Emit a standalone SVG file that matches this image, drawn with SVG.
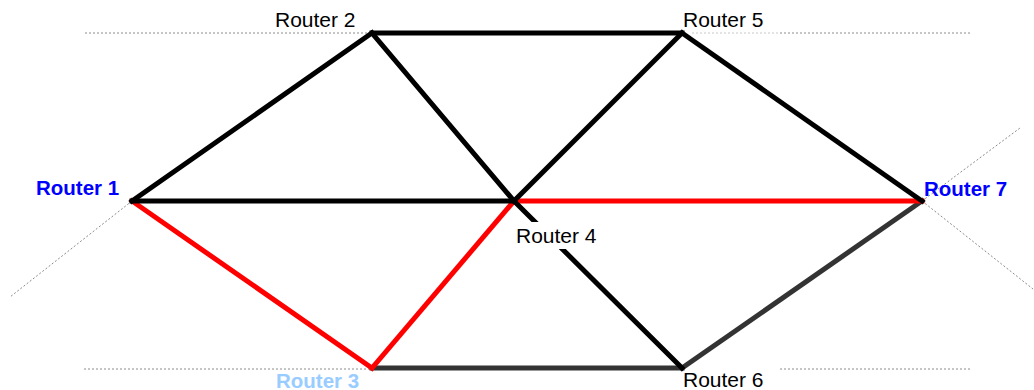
<svg xmlns="http://www.w3.org/2000/svg" width="1034" height="390" viewBox="0 0 1034 390">
  <style>
    .guide { stroke: #8c8c8c; stroke-width: 1; stroke-dasharray: 2 2; fill: none; }
    .guide-light { stroke: #c8c8c8; stroke-width: 1; stroke-dasharray: 2 2; fill: none; }
    .link { stroke-width: 5; fill: none; stroke-linecap: square; }
    .black { stroke: #000000; }
    .red { stroke: #ff0000; }
    .gray { stroke: #333333; }
    .label { font-family: "Liberation Sans", Arial, sans-serif; font-size: 21px; fill: #000000; }
    .edge-router { font-weight: bold; fill: #0000ff; font-size: 20.5px; }
    .dim-router { font-weight: bold; fill: #99ccff; font-size: 20.5px; }
  </style>

  <rect x="0" y="0" width="1034" height="390" fill="#ffffff"/>

  <!-- dotted reference lines -->
  <g id="guides">
    <line class="guide" x1="85" y1="33" x2="372" y2="33"/>
    <line class="guide-light" x1="692" y1="33" x2="780" y2="33"/>
    <line class="guide" x1="780" y1="33" x2="970" y2="33"/>
    <line class="guide" x1="84" y1="369" x2="372" y2="369"/>
    <line class="guide" x1="780" y1="369" x2="970" y2="369"/>
    <line class="guide" x1="132" y1="201" x2="10" y2="297"/>
    <line class="guide" x1="922" y1="201" x2="1020" y2="128"/>
    <line class="guide" x1="922" y1="201" x2="1033" y2="289"/>
  </g>

  <!-- links between routers -->
  <g id="connectors">
    <line class="link gray" x1="372" y1="368" x2="682" y2="368"/>
    <line class="link gray" x1="682" y1="368" x2="922" y2="201"/>
    <line class="link red" x1="132" y1="201" x2="372" y2="368"/>
    <line class="link red" x1="372" y1="368" x2="514" y2="201"/>
    <line class="link red" x1="514" y1="201" x2="922" y2="201"/>
    <line class="link black" x1="132" y1="201" x2="372" y2="33"/>
    <line class="link black" x1="372" y1="33" x2="682" y2="33"/>
    <line class="link black" x1="682" y1="33" x2="922" y2="201"/>
    <line class="link black" x1="132" y1="201" x2="512" y2="201"/>
    <line class="link black" x1="372" y1="33" x2="514" y2="201"/>
    <line class="link black" x1="682" y1="33" x2="514" y2="201"/>
    <line class="link black" x1="514" y1="201" x2="682" y2="368"/>
  </g>

  <g id="router1">
    <text class="label edge-router" x="36" y="195">Router 1</text>
  </g>
  <g id="router2">
    <text class="label" x="275" y="27">Router 2</text>
  </g>
  <g id="router3">
    <text class="dim-router label" x="276" y="388">Router 3</text>
  </g>
  <g id="router4">
    <rect x="514" y="222" width="86" height="27" fill="#ffffff"/>
    <text class="label" x="516" y="243">Router 4</text>
  </g>
  <g id="router5">
    <text class="label" x="683" y="27">Router 5</text>
  </g>
  <g id="router6">
    <text class="label" x="683" y="387">Router 6</text>
  </g>
  <g id="router7">
    <text class="label edge-router" x="924" y="196">Router 7</text>
  </g>
</svg>
